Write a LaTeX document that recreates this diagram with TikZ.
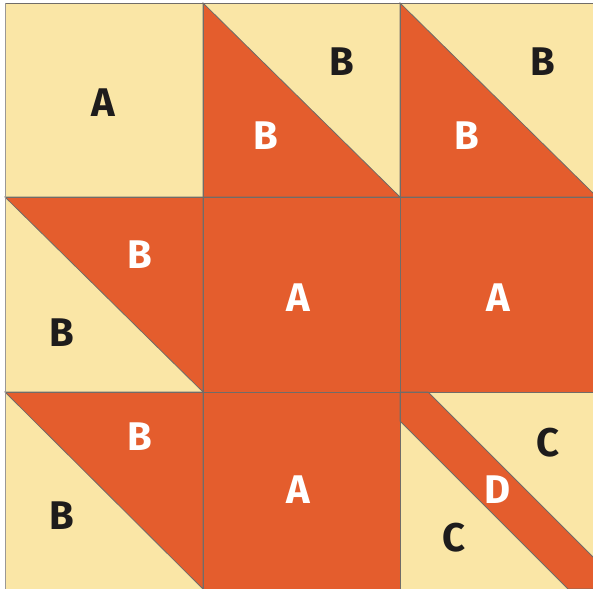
\documentclass[tikz,border=0pt]{standalone}
\usepackage{fontspec}
\setmainfont{Fira Sans}
\usetikzlibrary{positioning}
\definecolor{ccream}{RGB}{250,230,166}
\definecolor{corange}{RGB}{228,93,45}
\definecolor{cseam}{RGB}{112,108,104}
\definecolor{cink}{RGB}{30,28,28}

\begin{document}
\begin{tikzpicture}[
  x=1pt, y=-1pt,
  lbl/.style={font=\fontsize{40}{40}\selectfont\bfseries, inner sep=0pt},
  dark/.style={lbl, color=cink},
  light/.style={lbl, color=white},
  seam/.style={draw=cseam, line width=0.8pt},
  patch/.style={seam, fill=corange},
  base/.style={seam, fill=ccream}
]

\useasboundingbox (0,0) rectangle (593,588);
\clip (0,0) rectangle (593,588);

% ---------- background cream ----------
\filldraw[base] (5,3) rectangle (600,600);

% ---------- orange patches ----------
% top row: lower-left half triangles
\filldraw[patch] (203,3) -- (203,197) -- (400,197) -- cycle;
\filldraw[patch] (400,3) -- (400,197) -- (597,197) -- cycle;
% left column: upper-right half triangles
\filldraw[patch] (5,197) -- (203,197) -- (203,392) -- cycle;
\filldraw[patch] (5,392) -- (203,392) -- (203,589) -- cycle;
% full squares
\filldraw[patch] (203,197) rectangle (597,392);
\filldraw[patch] (203,392) rectangle (400,589);
% diagonal strip in the corner square
\filldraw[patch] (400,392) -- (428,392) -- (597,561) -- (597,589)
  -- (568,589) -- (400,421) -- cycle;

% ---------- seams ----------
\foreach \x in {203,400}
  \draw[seam] (\x,3) -- (\x,600);
\foreach \y in {197,392}
  \draw[seam] (5,\y) -- (600,\y);
\draw[seam] (5,3) -- (600,3);
\draw[seam, draw=cseam!70] (5,3) -- (5,600);

% ---------- labels ----------
\node[dark]  (a1) at (103,103) {A};
\node[dark]  (b1) at (342,62)  {B};
\node[light] (b2) at (266,136) {B};
\node[dark]  (b3) at (543,62)  {B};
\node[light] (b4) at (467,136) {B};

\node[light] (b5) at (140,255) {B};
\node[dark]  (b6) at (62,333)  {B};
\node[light] (a2) at (298,298) {A};
\node[light] (a3) at (498,298) {A};

\node[light] (b7) at (140,437) {B};
\node[dark]  (b8) at (62,516)  {B};
\node[light] (a4) at (298,490) {A};
\node[dark]  (c1) at (548,443) {C};
\node[light] (d1) at (498,490) {D};
\node[dark]  (c2) at (454,538) {C};

\end{tikzpicture}
\end{document}
